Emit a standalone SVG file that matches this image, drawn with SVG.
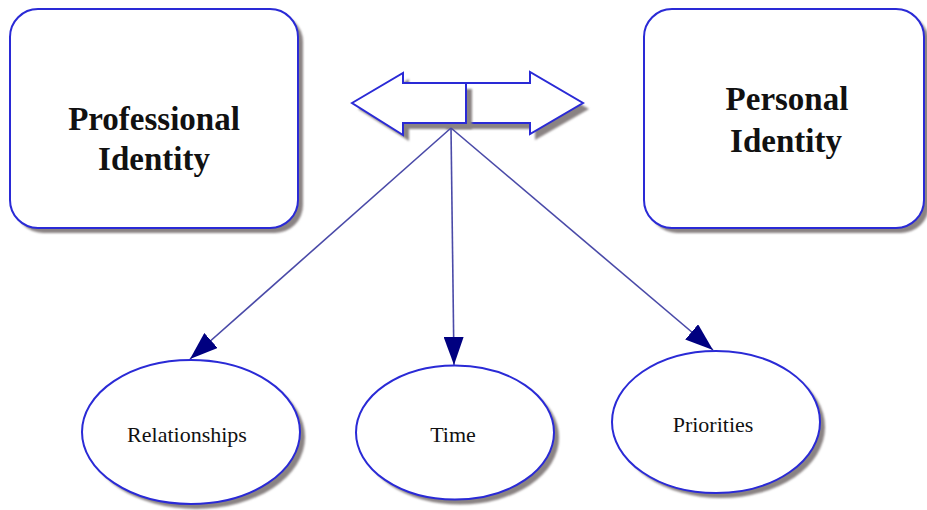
<svg xmlns="http://www.w3.org/2000/svg" width="927" height="510" viewBox="0 0 927 510">
  <defs>
    <filter id="soft" x="-10%" y="-10%" width="120%" height="120%">
      <feGaussianBlur stdDeviation="1"/>
    </filter>
    <marker id="head" viewBox="0 0 28 20" refX="28" refY="10" markerWidth="28" markerHeight="20" markerUnits="userSpaceOnUse" orient="auto">
      <path d="M0,0 L28,10 L0,20 Z" fill="#000080"/>
    </marker>
  </defs>
  <style>
    .shadow { fill: #8a8383; stroke: none; filter: url(#soft); }
    .shape { fill: #ffffff; stroke: #2a2ad6; stroke-width: 2; }
    .title { font-family: "Liberation Serif", "Times New Roman", serif; font-size: 33px; font-weight: bold; fill: #111111; text-anchor: middle; }
    .label { font-family: "Liberation Serif", "Times New Roman", serif; font-size: 22px; fill: #111111; text-anchor: middle; }
    .link { stroke: #4a4aa8; stroke-width: 1.6; fill: none; marker-end: url(#head); }
  </style>

  <rect width="927" height="510" fill="#ffffff"/>

  <g id="professional-identity">
    <rect class="shadow" x="15" y="14" width="288" height="219" rx="28"/>
    <rect class="shape" x="10" y="9" width="288" height="219" rx="28"/>
    <text class="title" x="154" y="130">Professional</text>
    <text class="title" x="154" y="170">Identity</text>
  </g>

  <g id="personal-identity">
    <rect class="shadow" x="649" y="14" width="280" height="219" rx="28"/>
    <rect class="shape" x="644" y="9" width="280" height="219" rx="28"/>
    <text class="title" x="787" y="110">Personal</text>
    <text class="title" x="786" y="152">Identity</text>
  </g>

  <g id="balance-arrow">
    <!-- right-pointing half, drawn first so the left half overlaps it -->
    <polygon class="shadow" points="446,89 535,89 535,78 589,109 535,140 535,129 446,129"/>
    <polygon class="shape" points="440,83 530,83 530,72 583,103 530,134 530,123 440,123"/>
    <!-- left-pointing half -->
    <polygon class="shadow" points="358,109 409,79 409,89 472,89 472,129 409,129 409,141"/>
    <polygon class="shape" points="352,103 403,73 403,83 466,83 466,123 403,123 403,135"/>
  </g>

  <g id="connectors">
    <line class="link" x1="451" y1="128" x2="190" y2="359"/>
    <line class="link" x1="451" y1="128" x2="454" y2="365"/>
    <line class="link" x1="451" y1="128" x2="713" y2="350"/>
  </g>

  <g id="relationships">
    <ellipse class="shadow" cx="196" cy="437" rx="109" ry="72"/>
    <ellipse class="shape" cx="191" cy="432" rx="109" ry="72"/>
    <text class="label" x="187" y="442">Relationships</text>
  </g>

  <g id="time">
    <ellipse class="shadow" cx="460" cy="437.5" rx="99" ry="67"/>
    <ellipse class="shape" cx="455" cy="432.5" rx="99" ry="67"/>
    <text class="label" x="453" y="442">Time</text>
  </g>

  <g id="priorities">
    <ellipse class="shadow" cx="721" cy="427" rx="104" ry="71"/>
    <ellipse class="shape" cx="716" cy="422" rx="104" ry="71"/>
    <text class="label" x="713" y="432">Priorities</text>
  </g>
</svg>
